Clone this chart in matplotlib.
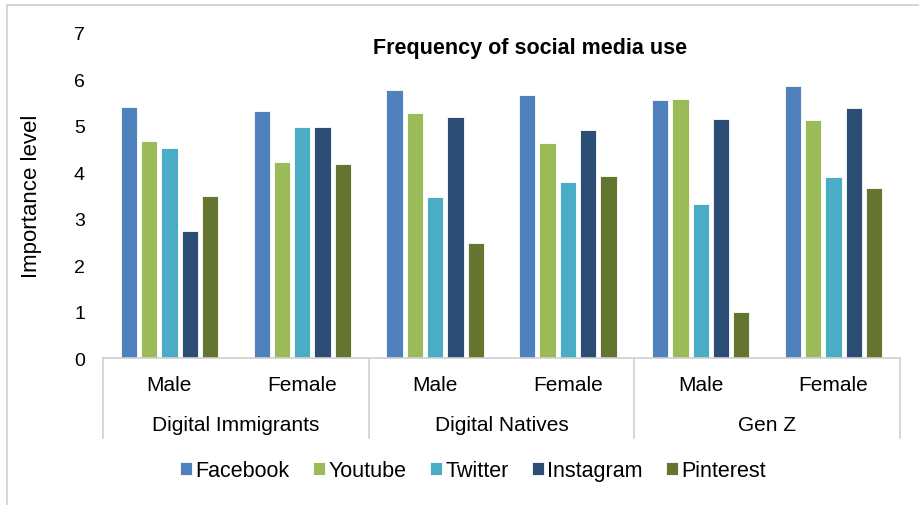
import matplotlib.pyplot as plt
from matplotlib.lines import Line2D
import numpy as np

plt.rcParams['font.family'] = ['Liberation Sans', 'DejaVu Sans']

# Data
groups = ['Digital Immigrants', 'Digital Natives', 'Gen Z']
genders = ['Male', 'Female']
series = ['Facebook', 'Youtube', 'Twitter', 'Instagram', 'Pinterest']
facebook = [5.41, 5.31, 5.77, 5.66, 5.56, 5.85]
youtube = [4.68, 4.22, 5.27, 4.64, 5.57, 5.13]
twitter = [4.52, 4.98, 3.46, 3.79, 3.32, 3.89]
instagram = [2.73, 4.98, 5.18, 4.92, 5.14, 5.39]
pinterest = [3.48, 4.18, 2.48, 3.92, 0.99, 3.65]
colors = ['#4F81BD', '#9BBB59', '#4BACC6', '#2C4D75', '#64752F']

fig = plt.figure(figsize=(9.19, 5.06), dpi=100)
ax = fig.add_axes([0.1121, 0.2905, 0.8672, 0.6425])

x = np.arange(6)
width = 0.122
step = 0.153
values = [facebook, youtube, twitter, instagram, pinterest]
for i, (vals, col, name) in enumerate(zip(values, colors, series)):
    ax.bar(x + (i - 2) * step, vals, width, color=col, edgecolor='white',
           linewidth=0.6, label=name)

ax.set_xlim(-0.5, 5.5)
ax.set_ylim(0, 7)
ax.set_yticks(range(8))
ax.tick_params(axis='y', length=0, pad=13, labelsize=14)
ax.tick_params(axis='x', length=0)
ax.set_xticks([])
for s in ['left', 'right', 'top']:
    ax.spines[s].set_visible(False)
ax.spines['bottom'].set_color('#d0d0d0')
ax.spines['bottom'].set_linewidth(1.2)

ax.set_ylabel('Importance level', fontsize=16, labelpad=23)

# two-level category axis
trans = ax.get_xaxis_transform()
for i in range(6):
    ax.text(x[i], -0.082, genders[i % 2], transform=trans, ha='center',
            va='center', fontsize=15)
for g, name in enumerate(groups):
    ax.text(2 * g + 0.5, -0.205, name, transform=trans, ha='center',
            va='center', fontsize=15)
for sx in [-0.5, 1.5, 3.5, 5.5]:
    ax.add_line(Line2D([sx, sx], [0, -0.245], transform=trans, color='#d0d0d0',
                       linewidth=1.2, clip_on=False))

ax.text(0.536, 0.955, 'Frequency of social media use', transform=ax.transAxes,
        ha='center', va='center', fontsize=15.5, fontweight='bold')

# chart border (top and left visible)
fig.add_artist(Line2D([0.0076, 0.0076, 1.0], [0.0, 0.988, 0.988],
                      transform=fig.transFigure, color='#d0d0d0', linewidth=1.2))

fig.legend(loc='center', bbox_to_anchor=(0.515, 0.068), ncol=5, frameon=False,
           fontsize=15.5, handlelength=0.55, handleheight=0.55, handletextpad=0.15,
           columnspacing=1.1)

fig.savefig('out.png', dpi=100)
